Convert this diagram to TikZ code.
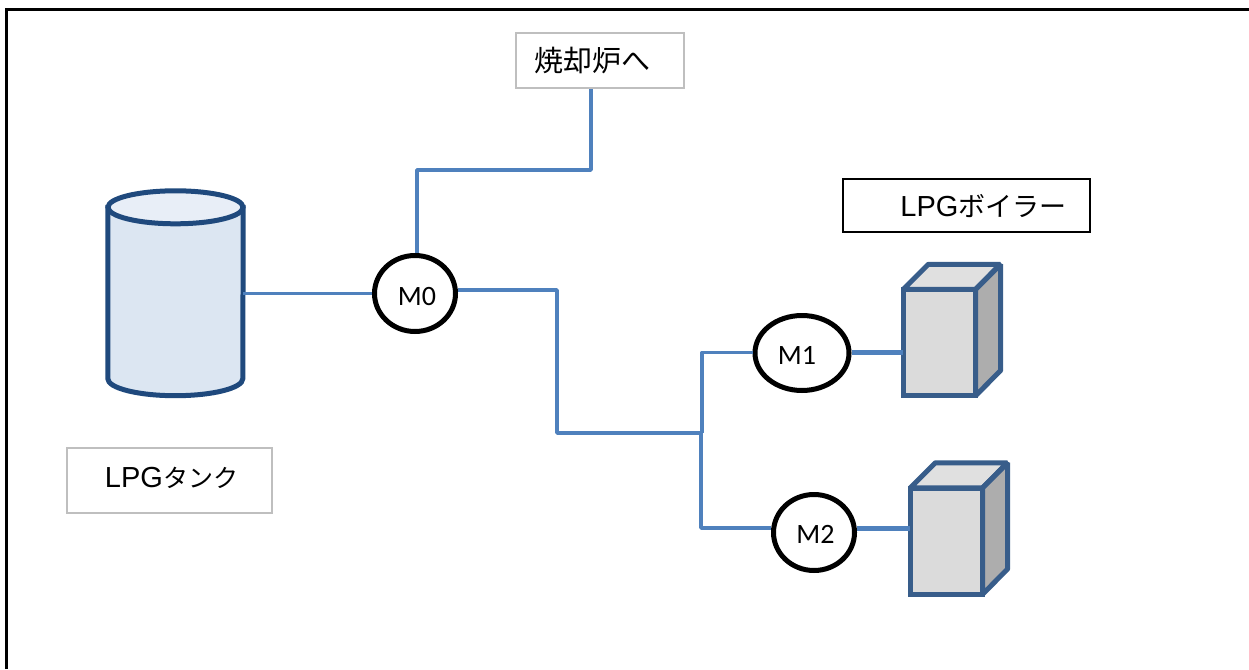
\documentclass[tikz,border=0pt]{standalone}
\usepackage{fontspec}
\setmainfont{Liberation Sans}
\newfontfamily\cjk{Noto Sans CJK JP}
\newfontfamily\valvefont{Carlito}
\usetikzlibrary{shapes.geometric,calc}
\definecolor{pipeblue}{HTML}{4F81BD}
\definecolor{tankblue}{HTML}{1F497D}
\definecolor{tankfill}{HTML}{DCE6F2}
\definecolor{tanktop}{HTML}{E8EEF7}
\definecolor{boilerblue}{HTML}{385D8A}
\tikzset{
    pipe/.style={draw=pipeblue, line width=3.6pt, line join=round},
    feedpipe/.style={draw=pipeblue, line width=5pt},
    tankline/.style={draw=tankblue, line width=5pt},
    labelbox/.style={draw=black!25, line width=2.5pt, inner sep=0pt, fill=white},
    valve/.style={ellipse, draw=black, line width=5pt, fill=white, inner sep=0pt,
        font=\valvefont\fontsize{28}{30}\selectfont},
    boilerfront/.style={draw=boilerblue, line width=5pt, fill=black!14, inner sep=0pt,
        minimum width=72pt, minimum height=106pt},
    boilerface/.style={draw=boilerblue, line width=5pt, line join=bevel},
}
% text set on a given drop below the node centre
\newcommand{\dropped}[2]{\raisebox{-#1}[0pt][0pt]{#2}}
% boiler: name, centre of the front face
\newcommand{\boilerbox}[2]{
    \node (#1) at (#2) [minimum width=72pt, minimum height=106pt, inner sep=0pt] {};
    \draw[boilerface, fill=black!12] (#1.north west) -- ++(25,-25) -- ++(72,0)
        -- (#1.north east) -- cycle;
    \draw[boilerface, fill=black!32] (#1.north east) -- ++(25,-25) -- ++(0,106)
        -- (#1.south east) -- cycle;
    \node[boilerfront] at (#1) {};
}
\begin{document}
\begin{tikzpicture}[x=1pt, y=-1pt]
    \useasboundingbox (0,0) rectangle (1249,669);

    % outer frame
    \coordinate (frameA) at (6.5,669);
    \coordinate (frameB) at (6.5,9.5);
    \coordinate (frameC) at (1249,9.5);
    \draw[line width=3.5pt, line join=miter] (frameA) -- (frameB) -- (frameC);

    % tank
    \node[minimum width=135pt, minimum height=171pt, inner sep=0pt] (tank) at (175.5,293) {};
    \draw[tankline, fill=tankfill] (tank.north west) -- (tank.south west)
        arc[start angle=180, end angle=360, x radius=67.5pt, y radius=17pt]
        -- (tank.north east) -- cycle;
    \draw[tankline, fill=tanktop] (tank.north) ellipse [x radius=67.5pt, y radius=16.5pt];

    % valves
    \node[valve, minimum width=81pt, minimum height=76pt] (M0) at (415,293.5) {\hspace*{4pt}\dropped{11.5pt}{M0}};
    \node[valve, minimum width=94pt, minimum height=75pt] (M1) at (802,353) {\dropped{11pt}{M1}\hspace*{10pt}};
    \node[valve, minimum width=81pt, minimum height=76pt] (M2) at (814,532.5) {\hspace*{3pt}\dropped{10.5pt}{M2}};

    % boilers
    \boilerbox{boilerA}{939.5,342.5}
    \boilerbox{boilerB}{946.5,541}

    % labels
    \node[labelbox, minimum width=168pt, minimum height=55pt] (furnace) at (600,60.5)
        {{\cjk\fontsize{29}{32}\selectfont 焼却炉へ}\hspace*{16pt}};
    \node[labelbox, minimum width=205pt, minimum height=65pt] (tanklabel) at (169.5,480.5)
        {\hspace*{4pt}\dropped{6.5pt}{\fontsize{29}{30}\selectfont LPG{\cjk\fontsize{25}{30}\selectfont タンク}}};
    \node[labelbox, draw=black, minimum width=247pt, minimum height=53pt] (boilerlabel) at (966.5,205.5)
        {\hspace*{34pt}\dropped{10.5pt}{\fontsize{29}{30}\selectfont LPG{\cjk\fontsize{27}{30}\selectfont ボイラー}}};

    % pipe corners
    \coordinate (furnacein) at (591,89);
    \coordinate (upturnA) at (417,170);
    \coordinate (upturnB) at (591,170);
    \coordinate (mainA) at (557,290);
    \coordinate (mainB) at (557,433);
    \coordinate (mainC) at (650,433);
    \coordinate (junction) at (702,433);
    \coordinate (branchA) at (702,352.5);
    \coordinate (branchB) at (701,528);
    \coordinate (junctionB) at (701,433);

    % pipes
    \draw[pipe] (tank.east |- M0.west) -- (M0.west);
    \draw[pipe] (upturnA |- M0.north) -- (upturnA) -- (upturnB) -- (furnacein);
    \draw[pipe] (M0.east |- mainA) -- (mainA) -- (mainB) -- (mainC);
    \draw[pipe, line width=4.5pt] (mainC) -- (junction);
    \draw[pipe] (junction) -- (branchA) -- (branchA -| M1.west);
    \draw[pipe] (junctionB) -- (branchB) -- (branchB -| M2.west);
    \draw[feedpipe] (branchA -| M1.east) -- (branchA -| boilerA.west);
    \draw[feedpipe] (branchB -| M2.east) -- (branchB -| boilerB.west);
\end{tikzpicture}
\end{document}
